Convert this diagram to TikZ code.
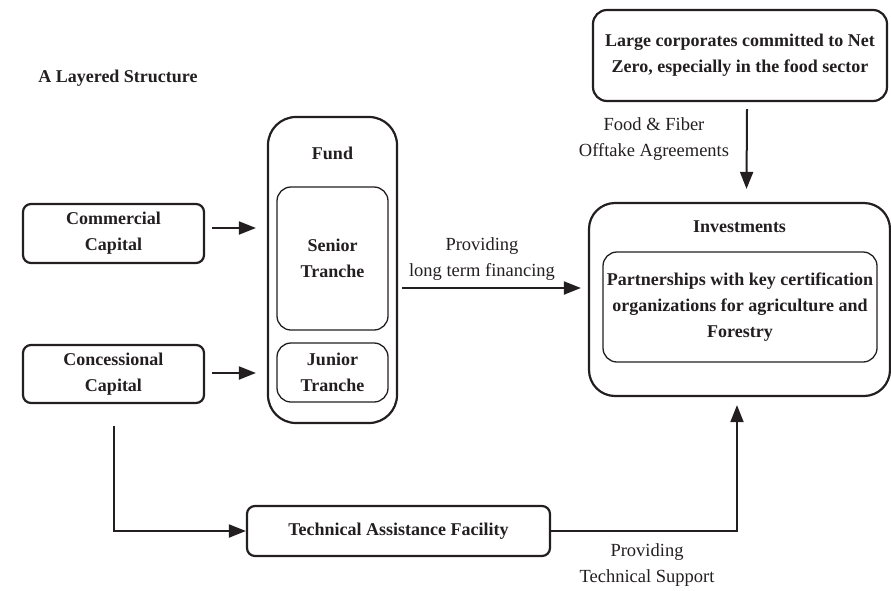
\documentclass[tikz,border=0pt]{standalone}
\usepackage{fontspec}
\setmainfont{Liberation Serif}
\usetikzlibrary{arrows.meta,calc}
\definecolor{ink}{HTML}{231F20}
\begin{document}
\begin{tikzpicture}[x=1pt,y=-1pt,
  every node/.style={font=\fontsize{18.5}{26}\selectfont, text=ink, align=center, inner sep=0pt},
  lbl/.style={font=\bfseries\fontsize{18}{26}\selectfont},
  box/.style={draw=ink, line width=2.2pt, rounded corners=8pt},
  inbox/.style={draw=ink, line width=1.3pt, rounded corners=12pt},
  flow/.style={draw=ink, line width=2pt, -{Triangle[length=17pt,width=13pt]}},
]
\useasboundingbox (0,0) rectangle (891,590);

% heading
\node[lbl] (title) at (118,78) {A Layered Structure};

% capital sources
\node[box, lbl, minimum width=181pt, minimum height=59pt] (comm) at (113.5,233.5) {Commercial\\Capital};
\node[box, lbl, minimum width=181pt, minimum height=58pt] (conc) at (113.5,374) {Concessional\\Capital};

% fund with its two tranches
\node[box, rounded corners=28pt, minimum width=129pt, minimum height=306pt] (fund) at (332.5,270) {};
\node[lbl] (fundlbl) at (332.5,153) {Fund};
\node[inbox, lbl, rounded corners=14pt, minimum width=111pt, minimum height=143pt] (senior) at (332.5,258.5) {Senior\\Tranche};
\node[inbox, lbl, rounded corners=14pt, minimum width=111pt, minimum height=59pt] (junior) at (332.5,372.5) {Junior\\Tranche};

% corporates
\node[box, lbl, rounded corners=14pt, minimum width=294pt, minimum height=91pt] (corp) at (740,55.5) {Large corporates committed to Net\\Zero, especially in the food sector};

% investments
\node[box, rounded corners=26pt, minimum width=301pt, minimum height=193pt] (inv) at (739.5,299.5) {};
\node[lbl] (invlbl) at (739.5,227) {Investments};
\node[inbox, lbl, rounded corners=14pt, minimum width=274pt, minimum height=110pt] (part) at (740,307) {Partnerships with key certification\\organizations for agriculture and\\Forestry};

% technical assistance
\node[box, lbl, minimum width=303pt, minimum height=50pt] (taf) at (398.5,531) {Technical Assistance Facility};

% connectors
\draw[flow] ($(comm.east)+(7,-5.5)$) -- ($(fund.west |- comm.east)+(-11,-5.5)$);
\draw[flow] ($(conc.east)+(7,-1)$) -- ($(fund.west |- conc.east)+(-11,-1)$);
\draw[flow] ($(fund.east)+(4,18)$) -- ($(inv.west |- fund.east)+(-7,18)$);
\draw[flow] ($(corp.south)+(7,7)$) -- ($(inv.north)+(7,-13)$);
\draw[flow] ($(conc.south)+(0,22)$) |- (taf.west);
\draw[flow] (taf.east) -| ($(inv.south)+(-2.5,8)$);

% connector labels
\node (lfin) at (482,259.5) {Providing\\long term financing};
\node (lfood) at (654,139.5) {Food \& Fiber\\Offtake Agreements};
\node (lts) at (647,565) {Providing\\Technical Support};
\end{tikzpicture}
\end{document}
